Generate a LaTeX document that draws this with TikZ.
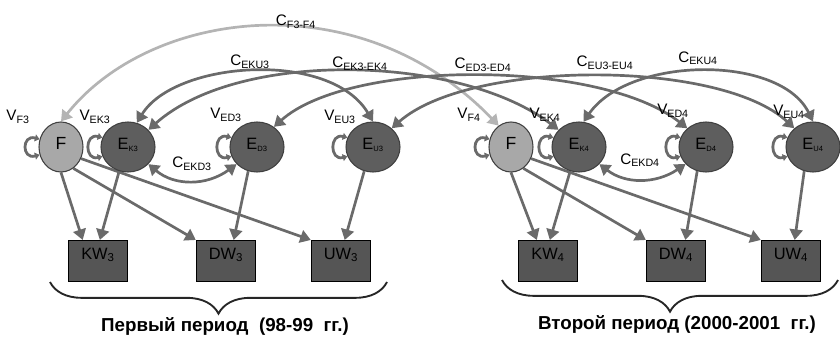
\documentclass[tikz,border=0pt]{standalone}
\usepackage{fontspec}
\setmainfont{Liberation Sans}
\usetikzlibrary{backgrounds}
\usetikzlibrary{shapes.geometric}
\usetikzlibrary{arrows.meta}
\usetikzlibrary{decorations.pathreplacing}
\definecolor{arrgray}{HTML}{6A6A6A}
\definecolor{arrlight}{HTML}{B4B4B4}
\definecolor{fcrcfill}{HTML}{A8A8A8}
\definecolor{ecrcfill}{HTML}{5E5E5E}
\definecolor{wbxfill}{HTML}{555555}
\newcommand{\crly}{147}
\newcommand{\bxly}{261}
\newcommand{\lblfont}{\fontsize{13}{15}\selectfont}
\newcommand{\esb}[1]{E\textsubscript{\fontsize{6.5}{7}\selectfont #1}}
\newcommand{\vsb}[1]{V\textsubscript{#1}}
\newcommand{\csb}[1]{C\textsubscript{#1}}

\begin{document}
\begin{tikzpicture}[x=0.03cm,y=-0.03cm,
    >={Triangle[length=9pt,width=11pt]},
    fcrc/.style={ellipse,draw=black!75,line width=0.9pt,fill=fcrcfill,
      minimum width=1.32cm,minimum height=1.5cm,inner sep=0pt,
      text depth=6pt,font=\fontsize{15}{16}\selectfont},
    ecrc/.style={fcrc,fill=ecrcfill,minimum width=1.62cm,
      font=\fontsize{14}{16}\selectfont},
    wbx/.style={rectangle,draw=black,line width=0.9pt,fill=wbxfill,
      minimum width=1.78cm,minimum height=1.23cm,inner sep=0pt,
      text depth=13pt,font=\fontsize{14}{16}\selectfont},
    arr/.style={->,draw=arrgray,line width=2.3pt},
    darr/.style={arr,<->},
    farr/.style={darr,draw=arrlight},
    vlp/.style={draw=arrgray,line width=2.4pt,
      {Triangle[length=4pt,width=6pt]}-{Triangle[length=4pt,width=6pt]}},
    lbl/.style={font=\lblfont,inner sep=0pt},
    brc/.style={decorate,decoration={brace,mirror,amplitude=0.95cm},
      draw=black!85,line width=1.6pt},
    ttl/.style={font=\fontsize{16}{18}\selectfont\bfseries}]
    \useasboundingbox (0, 0) rectangle (840, 340);

    \node[fcrc] (F3) at (61, \crly) {F};
    \node[ecrc] (EK3) at (128, \crly) {\esb{K3}};
    \node[ecrc] (ED3) at (257, \crly) {\esb{D3}};
    \node[ecrc] (EU3) at (373, \crly) {\esb{U3}};
    \node[fcrc] (F4) at (511, \crly) {F};
    \node[ecrc] (EK4) at (579, \crly) {\esb{K4}};
    \node[ecrc] (ED4) at (706, \crly) {\esb{D4}};
    \node[ecrc] (EU4) at (813, \crly) {\esb{U4}};

    \node[wbx] (KW3) at (98, \bxly) {KW\textsubscript{3}};
    \node[wbx] (DW3) at (226, \bxly) {DW\textsubscript{3}};
    \node[wbx] (UW3) at (341, \bxly) {UW\textsubscript{3}};
    \node[wbx] (KW4) at (548, \bxly) {KW\textsubscript{4}};
    \node[wbx] (DW4) at (676, \bxly) {DW\textsubscript{4}};
    \node[wbx] (UW4) at (791, \bxly) {UW\textsubscript{4}};

    \node[lbl] (VF3) at (18, 117) {\vsb{F3}};
    \node[lbl] (VEK3) at (95, 117) {\vsb{EK3}};
    \node[lbl] (VED3) at (226, 115) {\vsb{ED3}};
    \node[lbl] (VEU3) at (340, 117) {\vsb{EU3}};
    \node[lbl] (VF4) at (469, 115) {\vsb{F4}};
    \node[lbl] (VEK4) at (545, 115) {\vsb{EK4}};
    \node[lbl] (VED4) at (673, 111) {\vsb{ED4}};
    \node[lbl] (VEU4) at (789, 112) {\vsb{EU4}};

    \node[lbl] (CF34) at (296, 22) {\csb{F3-F4}};
    \node[lbl] (CEKU3) at (250, 62) {\csb{EKU3}};
    \node[lbl] (CEK34) at (360, 64) {\csb{EK3-EK4}};
    \node[lbl] (CEKD3) at (192, 164) {\csb{EKD3}};
    \node[lbl] (CED34) at (483, 65) {\csb{ED3-ED4}};
    \node[lbl] (CEU34) at (605, 63) {\csb{EU3-EU4}};
    \node[lbl] (CEKU4) at (698, 58) {\csb{EKU4}};
    \node[lbl] (CEKD4) at (640, 160) {\csb{EKD4}};

    \node[ttl] (TTL3) at (225, 326) {Первый период \ (98-99 \ гг.)};
    \node[ttl] (TTL4) at (677, 324) {Второй период (2000-2001 \ гг.)};

    \begin{scope}[on background layer]
      \foreach \nd in {F3,EK3,ED3,EU3,F4,EK4,ED4,EU4}
        \draw[vlp] (\nd.160) .. controls +(-18,-5) and +(-18,5) .. (\nd.200);

      \draw[farr] (F3.north) .. controls +(89,-112) and +(-140,-145) .. (F4.120);
      \draw[darr] (EK3.70) .. controls +(38,-62) and +(-43,-72) .. (EU3.north);
      \draw[darr] (EK3.40) .. controls +(91,-81) and +(-98,-75) .. (EK4.140);
      \draw[darr] (ED3.50) .. controls +(76,-68) and +(-87,-69) .. (ED4.135);
      \draw[darr] (EU3.45) .. controls +(78,-69) and +(-74,-69) .. (EU4.135);
      \draw[darr] (EK4.80) .. controls +(46,-66) and +(-33,-67) .. (EU4.north);
      \draw[darr] (EK3.320) .. controls +(26,22) and +(-30,22) .. (ED3.220);
      \draw[darr] (EK4.320) .. controls +(26,20) and +(-30,20) .. (ED4.220);

      \draw[arr] (F3.south) -- (KW3.126);
      \draw[arr] (EK3.250) -- (KW3.85);
      \draw[arr] (F3.300) -- (DW3.north west);
      \draw[arr] (F3.330) -- (UW3.north west);
      \draw[arr] (ED3.250) -- (DW3.70);
      \draw[arr] (EU3.250) -- (UW3.80);
      \draw[arr] (F4.south) -- (KW4.118);
      \draw[arr] (EK4.250) -- (KW4.85);
      \draw[arr] (F4.300) -- (DW4.north west);
      \draw[arr] (F4.330) -- (UW4.north west);
      \draw[arr] (ED4.250) -- (DW4.66);
      \draw[arr] (EU4.250) -- (UW4.80);
    \end{scope}

    \draw[brc] (50, 282) -- (387, 282);
    \draw[brc] (502, 280) -- (838, 280);
\end{tikzpicture}
\end{document}
